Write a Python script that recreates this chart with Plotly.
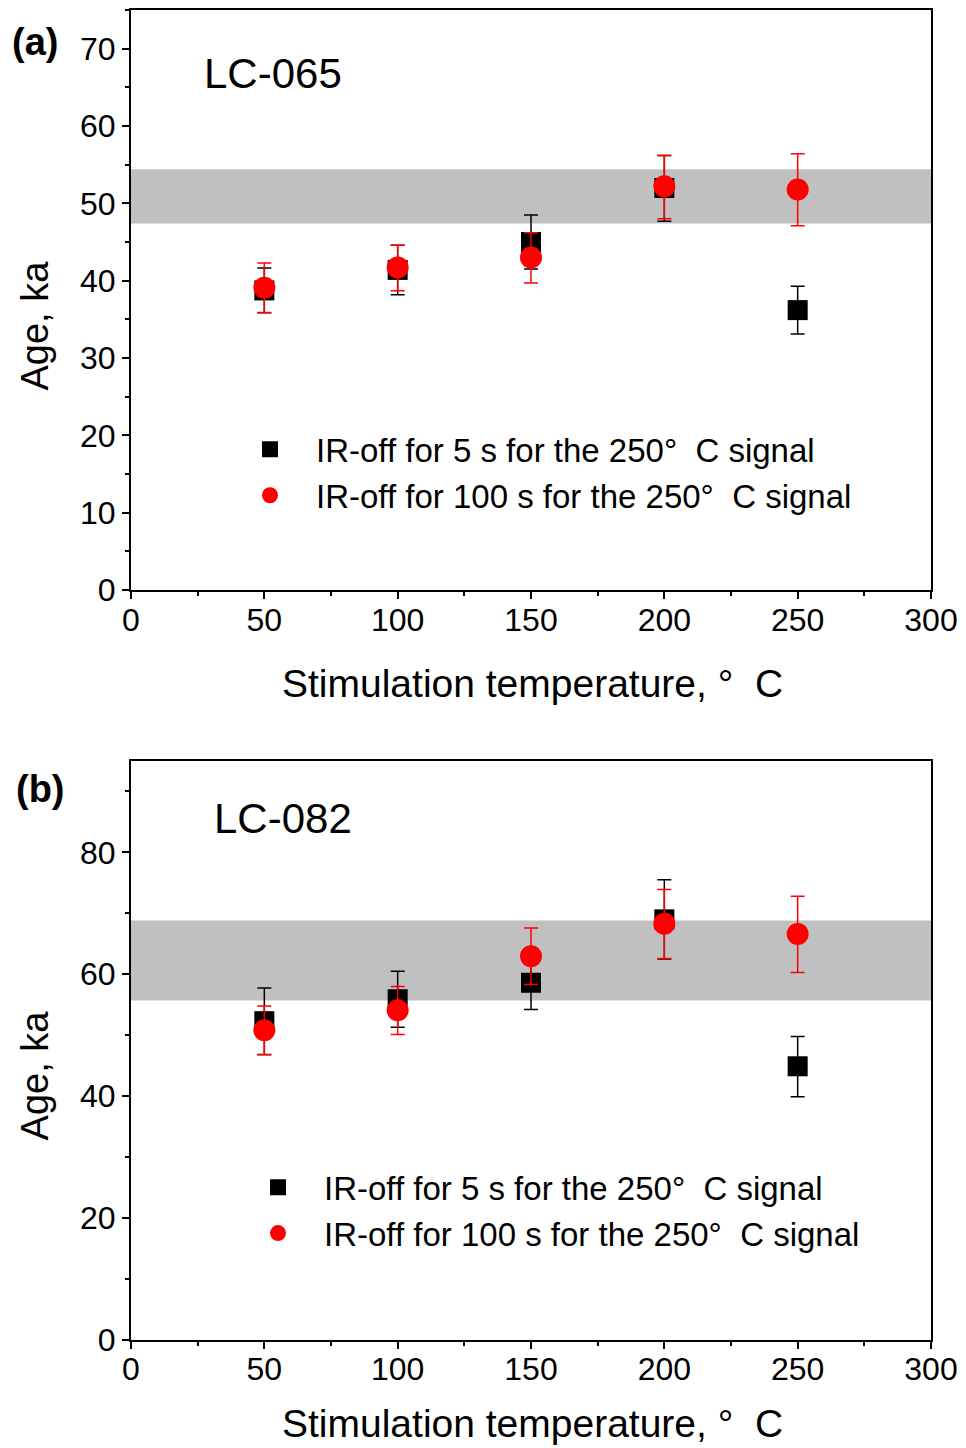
import plotly.graph_objects as go

# ---------------- data ----------------
temps = [50, 100, 150, 200, 250]

# Panel (a) LC-065
a_sq_age = [38.75, 41.4, 45.0, 52.0, 36.2]
a_sq_up = [2.9, 3.2, 3.5, 4.2, 3.1]
a_sq_dn = [2.9, 3.2, 3.5, 4.3, 3.1]
a_ci_age = [39.1, 41.7, 43.0, 52.2, 51.8]
a_ci_up = [3.2, 2.9, 3.2, 4.0, 4.6]
a_ci_dn = [3.2, 3.0, 3.3, 4.2, 4.7]
a_band = [47.4, 54.4]

# Panel (b) LC-082
b_sq_age = [52.3, 55.9, 58.6, 69.0, 44.9]
b_sq_up = [5.45, 4.6, 4.4, 6.5, 4.9]
b_sq_dn = [5.45, 4.6, 4.4, 6.5, 5.0]
b_ci_age = [50.8, 54.1, 62.95, 68.3, 66.6]
b_ci_up = [4.0, 3.9, 4.65, 5.6, 6.2]
b_ci_dn = [4.0, 4.0, 4.65, 5.7, 6.3]
b_band = [55.7, 68.8]

sq_name = "IR-off for 5 s for the 250°  C signal"
ci_name = "IR-off for 100 s for the 250°  C signal"
x_title = "Stimulation temperature, °  C"
y_title = "Age, ka"
x_ticks = [0, 50, 100, 150, 200, 250, 300]

FONT = "Liberation Sans, Arial, sans-serif"

fig = go.Figure()

def add_panel(xa, ya, legend, sq_age, sq_up, sq_dn, ci_age, ci_up, ci_dn):
    fig.add_trace(go.Scatter(
        x=temps, y=sq_age, mode="markers", name=sq_name,
        xaxis=xa, yaxis=ya, legend=legend,
        marker=dict(symbol="square", size=20, color="black"),
        error_y=dict(type="data", array=sq_up, arrayminus=sq_dn,
                     color="black", thickness=1.5, width=7),
    ))
    fig.add_trace(go.Scatter(
        x=temps, y=ci_age, mode="markers", name=ci_name,
        xaxis=xa, yaxis=ya, legend=legend,
        marker=dict(symbol="circle", size=22, color="#ff0000"),
        error_y=dict(type="data", array=ci_up, arrayminus=ci_dn,
                     color="#ff0000", thickness=1.5, width=7),
    ))

add_panel("x", "y", "legend", a_sq_age, a_sq_up, a_sq_dn, a_ci_age, a_ci_up, a_ci_dn)
add_panel("x2", "y2", "legend2", b_sq_age, b_sq_up, b_sq_dn, b_ci_age, b_ci_up, b_ci_dn)

# bands
fig.add_shape(type="rect", xref="x domain", yref="y", x0=0, x1=1,
              y0=a_band[0], y1=a_band[1], fillcolor="#c0c0c0",
              line=dict(width=0), layer="below")
fig.add_shape(type="rect", xref="x2 domain", yref="y2", x0=0, x1=1,
              y0=b_band[0], y1=b_band[1], fillcolor="#c0c0c0",
              line=dict(width=0), layer="below")

# the page body adds an 8px offset; compensate
OFF = 8
W, H = 966 - OFF, 1448 - OFF
L, R, T, B = 131 - OFF, 35, 8 - OFF, 108
PH = H - T - B  # 1332
PW = W - L - R  # 800

def py(pix):  # pix in reference-image coords
    return (1340 - pix) / PH

def px(pix):
    return (pix - 131) / PW

xaxis_common = dict(
    range=[0, 300], tickvals=x_ticks, ticks="outside", ticklen=7, tickwidth=2,
    tickcolor="black", showline=True, linecolor="black", linewidth=2,
    mirror=True, showgrid=False, zeroline=False, ticklabelstandoff=-7,
    tickfont=dict(family=FONT, size=32, color="black"),
    minor=dict(dtick=25, ticks="outside", ticklen=4, tickwidth=1.5, tickcolor="black"),
)
yaxis_common = dict(
    ticks="outside", ticklen=7, tickwidth=2, tickcolor="black",
    showline=True, linecolor="black", linewidth=2, mirror=True,
    showgrid=False, zeroline=False,
    tickfont=dict(family=FONT, size=32, color="black"),
)

fig.update_layout(
    width=W, height=H,
    margin=dict(l=L, r=R, t=T, b=B),
    plot_bgcolor="white", paper_bgcolor="white",
    font=dict(family=FONT, color="black"),
    xaxis=dict(domain=[0, 1], anchor="y", **xaxis_common),
    yaxis=dict(domain=[py(589), 1], anchor="x", range=[0, 75], dtick=10,
               minor=dict(dtick=5, ticks="outside", ticklen=4, tickwidth=1.5, tickcolor="black"),
               **yaxis_common),
    xaxis2=dict(domain=[0, 1], anchor="y2", **xaxis_common),
    yaxis2=dict(domain=[0, py(760)], anchor="x2", range=[0, 95], dtick=20,
                minor=dict(dtick=10, ticks="outside", ticklen=4, tickwidth=1.5, tickcolor="black"),
                **yaxis_common),
    legend=dict(x=px(224), y=py(420), xanchor="left", yanchor="top",
                bgcolor="rgba(0,0,0,0)", itemwidth=82,
                font=dict(family=FONT, size=33, color="black")),
    legend2=dict(x=px(232), y=py(1159), xanchor="left", yanchor="top",
                 bgcolor="rgba(0,0,0,0)", itemwidth=82,
                 font=dict(family=FONT, size=33, color="black")),
    showlegend=True,
)

ann = []
def add_text(text, xpix, ypix, size, bold=False, angle=0, xanchor="center"):
    ann.append(dict(text=("<b>%s</b>" % text) if bold else text,
                    xref="paper", yref="paper", x=px(xpix), y=py(ypix),
                    xanchor=xanchor, yanchor="middle", showarrow=False,
                    textangle=angle,
                    font=dict(family=FONT, size=size, color="black")))

add_text("(a)", 35, 40, 38, bold=True)
add_text("(b)", 40, 788, 38, bold=True)
add_text("LC-065", 202, 72, 42, xanchor="left")
add_text("LC-082", 212, 818, 42, xanchor="left")
add_text(y_title, 35, 324, 38, angle=-90)
add_text(y_title, 35, 1075, 38, angle=-90)
add_text(x_title, 532, 683, 39)
add_text(x_title, 532, 1424, 39)
fig.update_layout(annotations=ann)

fig.write_html("out.html")
